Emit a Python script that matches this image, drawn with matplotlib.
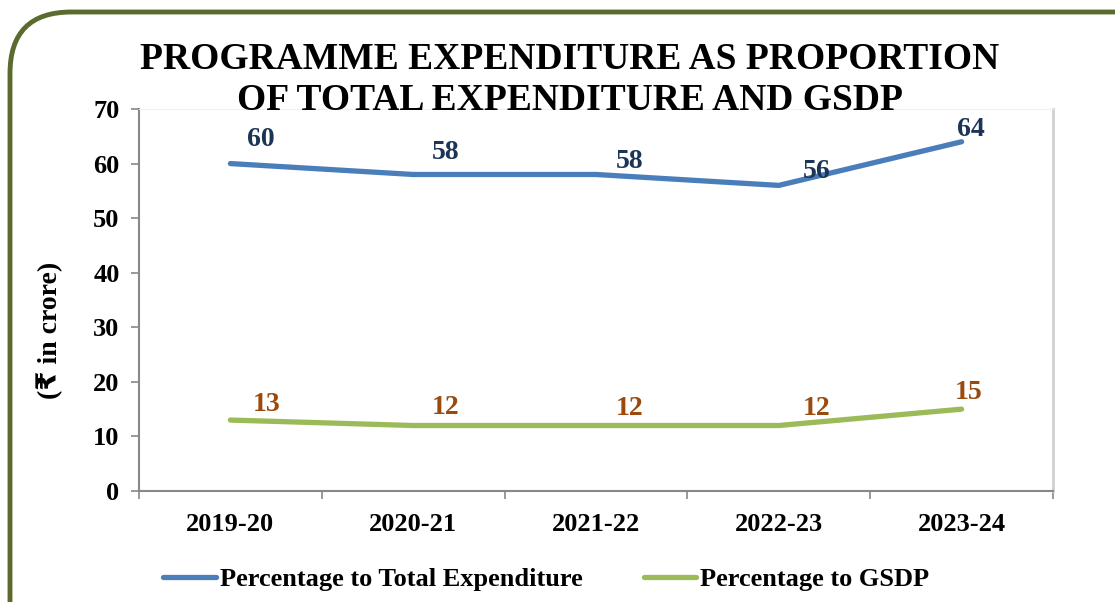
"""Programme expenditure as proportion of total expenditure and GSDP"""
import matplotlib
matplotlib.use("Agg")
import matplotlib.pyplot as plt
from matplotlib.patches import FancyBboxPatch

plt.rcParams['font.family'] = ['Liberation Serif', 'DejaVu Sans']
plt.rcParams['font.weight'] = 'bold'

years = ["2019-20", "2020-21", "2021-22", "2022-23", "2023-24"]
total_exp = [60, 58, 58, 56, 64]
gsdp = [13, 12, 12, 12, 15]

# label offsets in points (dx, dy)
total_off = [(22, 17), (23, 16), (24, 9), (27, 10), (7, 9)]
gsdp_off = [(26, 11), (23, 13), (24, 12), (27, 12), (5, 12)]

fig = plt.figure(figsize=(11.15, 6.02), dpi=100)

# rounded border
border = FancyBboxPatch((10 / 1115, -0.2), 1.2, 1.2 - 12 / 602,
                        boxstyle="round,pad=0,rounding_size=0.055",
                        transform=fig.transFigure, fill=False,
                        edgecolor="#5b6b2f", linewidth=3.5, zorder=0,
                        mutation_aspect=1115 / 602)
fig.patches.append(border)

ax = fig.add_axes([139 / 1115, 1 - 491 / 602, (1053 - 139) / 1115, (491 - 109) / 602])
x = list(range(len(years)))
ax.plot(x, total_exp, color="#4a7ebb", linewidth=3.8, solid_capstyle="round",
        label="Percentage to Total Expenditure")
ax.plot(x, gsdp, color="#9bbb59", linewidth=3.8, solid_capstyle="round",
        label="Percentage to GSDP")

for i, v in enumerate(total_exp):
    ax.annotate(str(v), (i, v), xytext=total_off[i], textcoords="offset points",
                ha="center", va="center", fontsize=20, fontweight="bold",
                color="#1c3557")
for i, v in enumerate(gsdp):
    ax.annotate(str(v), (i, v), xytext=gsdp_off[i], textcoords="offset points",
                ha="center", va="center", fontsize=20, fontweight="bold",
                color="#9c4a0c")

ax.set_xlim(-0.5, len(years) - 0.5)
ax.set_ylim(0, 70)
ax.set_yticks(range(0, 71, 10))
ax.set_xticks(x)
ax.set_xticklabels(years)
ax.set_xticks([i - 0.5 for i in range(len(years) + 1)], minor=True)
ax.tick_params(axis="x", which="major", length=0, pad=16, labelsize=19)
ax.tick_params(axis="x", which="minor", length=6, color="#888888", width=1.2)
ax.tick_params(axis="y", length=6, color="#888888", width=1.2, labelsize=19, pad=8)
for lbl in ax.get_xticklabels() + ax.get_yticklabels():
    lbl.set_fontweight("bold")

ax.spines["left"].set_color("#888888")
ax.spines["bottom"].set_color("#888888")
ax.spines["left"].set_linewidth(1.5)
ax.spines["bottom"].set_linewidth(1.5)
ax.spines["top"].set_color("#f0f0f0")
ax.spines["right"].set_color("#d0d0d0")
ax.spines["right"].set_linewidth(2)

ax.set_ylabel("(₹ in crore)", fontsize=20, fontweight="bold")
ax.yaxis.set_label_coords(-0.083, 0.42)

fig.text(0.511, 0.93, "PROGRAMME EXPENDITURE AS PROPORTION\nOF TOTAL EXPENDITURE AND GSDP",
         ha="center", va="top", fontsize=27, fontweight="bold", linespacing=1.2)

fig.legend(loc="lower center", bbox_to_anchor=(0.49, -0.022), ncol=2, frameon=False,
           prop={"size": 19, "weight": "bold"}, handlelength=2.0, columnspacing=2.3,
           handletextpad=0.15)

fig.savefig("out.png", dpi=100)
